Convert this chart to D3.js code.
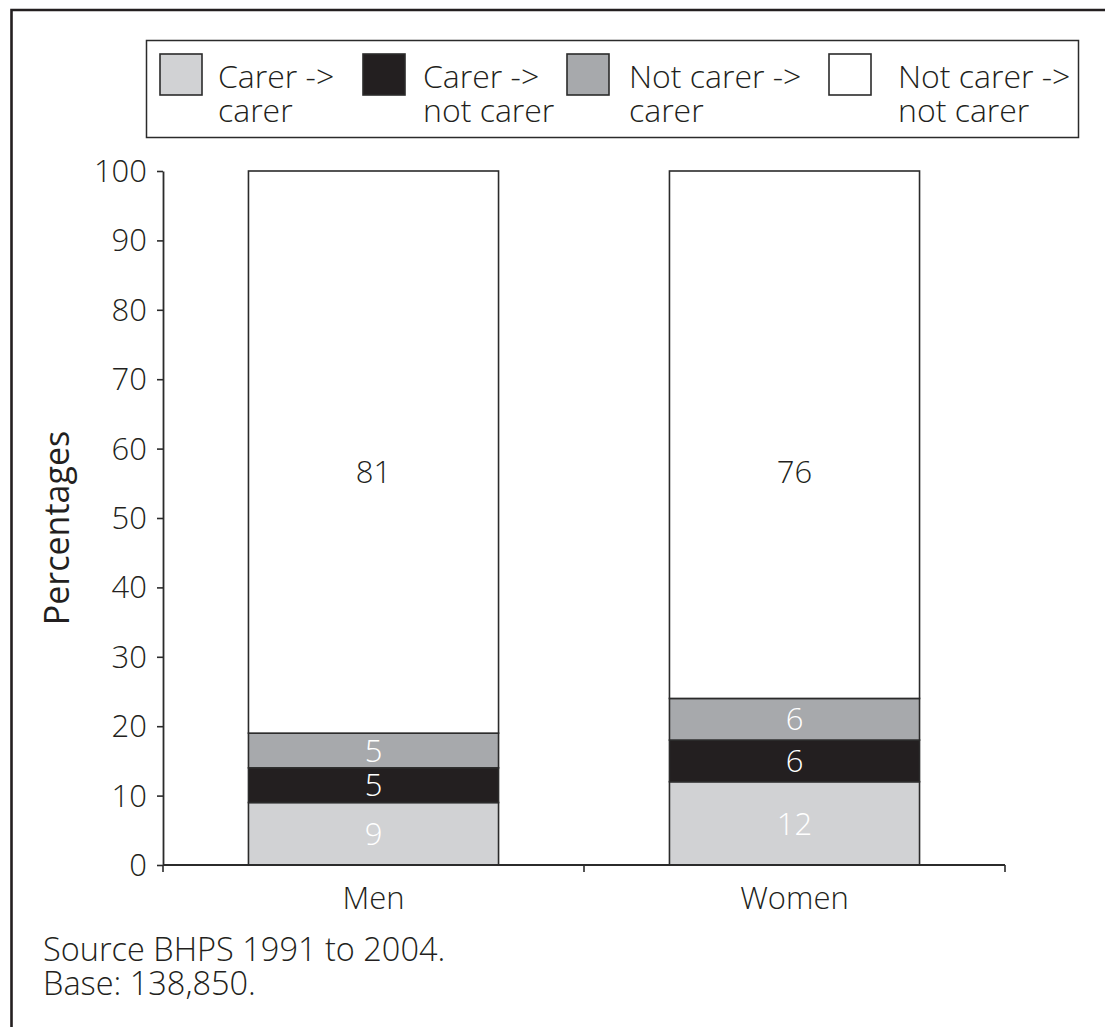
<!DOCTYPE html>
<html>
<head>
<meta charset="utf-8">
<script src="https://cdn.jsdelivr.net/npm/d3@7"></script>
<style>
  html, body { margin: 0; padding: 0; background: #fff; }
  svg { display: block; }
  text { font-family: "Open Sans", "Noto Sans", sans-serif; font-weight: 350; fill: #231f20; }
</style>
</head>
<body>
<svg id="chart" width="1105" height="1027"></svg>
<script>
// Care transitions by sex (percentages, BHPS 1991 to 2004)
const categories = ["Men", "Women"];
const seriesNames = ["Carer ->|carer", "Carer ->|not carer", "Not carer ->|carer", "Not carer ->|not carer"];
const carerToCarer = [9, 12];
const carerToNotCarer = [5, 6];
const notCarerToCarer = [5, 6];
const notCarerToNotCarer = [81, 76];
const yTicks = [0, 10, 20, 30, 40, 50, 60, 70, 80, 90, 100];
const sourceLines = ["Source BHPS 1991 to 2004.", "Base: 138,850."];

const seriesValues = [carerToCarer, carerToNotCarer, notCarerToCarer, notCarerToNotCarer];
const fills = ["#d1d2d4", "#231f20", "#a7a9ac", "#ffffff"];
const labelFills = ["#ffffff", "#ffffff", "#ffffff", "#231f20"];
const ink = "#2b2b2b";
const fontSize = 31;

const svg = d3.select("#chart");
svg.append("rect").attr("width", 1105).attr("height", 1027).attr("fill", "#fff");

// outer frame: top and left rules
svg.append("path")
  .attr("d", "M11.5,1027 V10 H1105")
  .attr("fill", "none").attr("stroke", "#231f20").attr("stroke-width", 2.6);

// scales
const x = d3.scaleBand().domain(categories).range([163, 1005]).paddingInner(0).paddingOuter(0);
const y = d3.scaleLinear().domain([0, 100]).range([865, 171]);
const barFrac = 0.594;
const barW = x.bandwidth() * barFrac;
const barX = c => x(c) + (x.bandwidth() - barW) / 2;

// stacked data
const table = categories.map((c, i) => {
  const row = { category: c };
  seriesValues.forEach((s, k) => row["s" + k] = s[i]);
  return row;
});
const keys = seriesValues.map((s, k) => "s" + k);
const stacked = d3.stack().keys(keys)(table);

// bars
const layers = svg.append("g").selectAll("g").data(stacked).join("g")
  .attr("fill", (d, k) => fills[k]);
layers.selectAll("rect").data(d => d).join("rect")
  .attr("x", d => barX(d.data.category))
  .attr("width", barW)
  .attr("y", d => y(d[1]))
  .attr("height", d => y(d[0]) - y(d[1]))
  .attr("stroke", ink).attr("stroke-width", 1.6);

// segment value labels; the tall top segment carries its label lower down
const topLabelValue = 56.6;
stacked.forEach((layer, k) => {
  svg.append("g").selectAll("text").data(layer).join("text")
    .attr("x", d => barX(d.data.category) + barW / 2)
    .attr("y", d => k === stacked.length - 1 ? y(topLabelValue) : y((d[0] + d[1]) / 2))
    .attr("dy", "0.36em")
    .attr("text-anchor", "middle")
    .attr("font-size", fontSize)
    .style("fill", labelFills[k])
    .text(d => d[1] - d[0]);
});

// y axis
const yAxis = svg.append("g").attr("transform", "translate(163,0)")
  .call(d3.axisLeft(y).tickValues(yTicks).tickSize(6).tickSizeOuter(0).tickPadding(10));
yAxis.select(".domain").attr("stroke", ink).attr("stroke-width", 1.8);
yAxis.selectAll(".tick line").attr("stroke", ink).attr("stroke-width", 1.6);
yAxis.selectAll(".tick text").attr("font-size", fontSize).attr("font-family", null).style("fill", "#231f20").attr("dy", "0.34em");

// x axis with ticks at category boundaries
const xAxisY = y(0);
const bounds = categories.map(c => x(c)).concat([x.range()[1]]);
svg.append("line").attr("x1", x.range()[0]).attr("x2", x.range()[1])
  .attr("y1", xAxisY).attr("y2", xAxisY)
  .attr("stroke", ink).attr("stroke-width", 2);
svg.append("g").selectAll("line").data(bounds).join("line")
  .attr("x1", d => d).attr("x2", d => d)
  .attr("y1", xAxisY).attr("y2", xAxisY + 7)
  .attr("stroke", ink).attr("stroke-width", 1.6);
svg.append("g").selectAll("text").data(categories).join("text")
  .attr("x", d => x(d) + x.bandwidth() / 2)
  .attr("y", 909)
  .attr("text-anchor", "middle")
  .attr("font-size", fontSize)
  .text(d => d);

// y axis title
svg.append("text")
  .attr("transform", "translate(69,528) rotate(-90)")
  .attr("text-anchor", "middle")
  .attr("font-size", 34)
  .style("font-weight", 400)
  .text("Percentages");

// legend
const legend = svg.append("g");
legend.append("rect").attr("x", 146.5).attr("y", 40.5).attr("width", 932).attr("height", 97)
  .attr("fill", "#fff").attr("stroke", ink).attr("stroke-width", 1.5);
const swatchX = [160, 363, 567, 829];
const textX = [218, 423, 629, 898];
const items = legend.selectAll("g.item").data(seriesNames).join("g").attr("class", "item");
items.append("rect")
  .attr("x", (d, k) => swatchX[k]).attr("y", 54).attr("width", 42).attr("height", 41)
  .attr("fill", (d, k) => fills[k]).attr("stroke", ink).attr("stroke-width", 1.6);
const itemText = items.append("text")
  .attr("x", (d, k) => textX[k]).attr("y", 88)
  .attr("font-size", 32);
itemText.selectAll("tspan").data((d, k) => d.split("|").map(t => ({ t, k }))).join("tspan")
  .attr("x", d => textX[d.k])
  .attr("dy", (d, i) => i === 0 ? 0 : 34)
  .text(d => d.t);

// source note
const note = svg.append("text").attr("x", 43).attr("y", 961).attr("font-size", 32.5);
note.selectAll("tspan").data(sourceLines).join("tspan")
  .attr("x", 43)
  .attr("dy", (d, i) => i === 0 ? 0 : 34)
  .text(d => d);
</script>
</body>
</html>
